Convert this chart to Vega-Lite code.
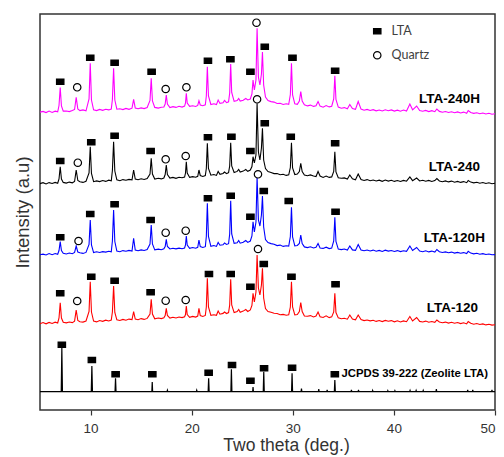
{
"$schema":"https://vega.github.io/schema/vega-lite/v6.json",
"width":455,"height":396,
"autosize":{"type":"none"},
"padding":{"left":40,"top":14,"right":9,"bottom":47},
"background":"white",
"config":{
 "view":{"stroke":"#333333","strokeWidth":1.5},
 "font":"Liberation Sans",
 "axisX":{"domain":false,"grid":false,"tickSize":5,"tickColor":"#333333","tickWidth":1.2,"labelFontSize":13.5,"labelColor":"#333333","labelPadding":6,"titleFontSize":17.5,"titleFontWeight":"normal","titleColor":"#333333","titlePadding":2},
 "axisY":{"domain":false,"grid":false,"ticks":false,"labels":false,"titleFontSize":18.5,"titleFontWeight":"normal","titleColor":"#333333","titlePadding":8}
},
"datasets":{
"xrd":[
{"x":5.0,"m":297.9,"k":226.4,"b":155.2,"r":86.3},
{"x":5.3,"m":298.6,"k":227.3,"b":155.9,"r":87.4},
{"x":5.6,"m":297.4,"k":226.1,"b":155.0,"r":86.2},
{"x":5.9,"m":298.9,"k":227.4,"b":156.4,"r":87.6},
{"x":6.2,"m":297.6,"k":226.5,"b":155.3,"r":86.6},
{"x":6.5,"m":298.8,"k":227.6,"b":156.5,"r":87.8},
{"x":6.75,"m":298.1,"k":226.8,"b":155.7,"r":87.0},
{"x":6.88,"m":304.5,"k":231,"b":159.5,"r":92},
{"x":7.0,"m":322.5,"k":243.3,"b":168.3,"r":107.3},
{"x":7.12,"m":304,"k":231,"b":159.5,"r":92},
{"x":7.3,"m":298.9,"k":227.6,"b":156.8,"r":87.7},
{"x":7.6,"m":299.0,"k":226.9,"b":156.0,"r":87.1},
{"x":7.9,"m":298.4,"k":227.9,"b":157.0,"r":88.0},
{"x":8.2,"m":299.4,"k":227.2,"b":156.3,"r":87.4},
{"x":8.42,"m":300.5,"k":228.5,"b":157.5,"r":88.8},
{"x":8.58,"m":312.7,"k":240,"b":164,"r":100},
{"x":8.74,"m":301,"k":229.5,"b":158,"r":89.5},
{"x":8.95,"m":299.4,"k":228.2,"b":157.2,"r":88.3},
{"x":9.25,"m":300.1,"k":227.6,"b":156.6,"r":87.9},
{"x":9.55,"m":299.2,"k":228.7,"b":157.6,"r":89.0},
{"x":9.85,"m":311,"k":237,"b":165.5,"r":98.5},
{"x":9.97,"m":346.7,"k":263.3,"b":190,"r":128.3},
{"x":10.09,"m":310,"k":236.5,"b":165,"r":98},
{"x":10.3,"m":300.2,"k":228.3,"b":157.4,"r":88.9},
{"x":10.6,"m":299.4,"k":229.1,"b":158.2,"r":88.1},
{"x":10.9,"m":300.6,"k":228.4,"b":157.5,"r":89.5},
{"x":11.2,"m":299.7,"k":229.5,"b":158.4,"r":88.7},
{"x":11.5,"m":300.8,"k":228.6,"b":157.9,"r":89.8},
{"x":11.8,"m":300.1,"k":229.8,"b":158.8,"r":89.0},
{"x":12.05,"m":301,"k":229.2,"b":158.2,"r":89.9},
{"x":12.16,"m":310.5,"k":239.5,"b":169,"r":98},
{"x":12.28,"m":341.7,"k":268.3,"b":200,"r":124},
{"x":12.4,"m":310,"k":239,"b":168.5,"r":97.5},
{"x":12.6,"m":300.8,"k":230.1,"b":159.0,"r":90.2},
{"x":12.9,"m":301.3,"k":229.3,"b":158.3,"r":89.5},
{"x":13.2,"m":300.4,"k":230.4,"b":159.4,"r":90.6},
{"x":13.5,"m":301.6,"k":229.7,"b":158.7,"r":89.8},
{"x":13.8,"m":300.7,"k":230.6,"b":159.6,"r":90.9},
{"x":14.1,"m":301.8,"k":230.1,"b":159.0,"r":90.4},
{"x":14.26,"m":310.7,"k":240,"b":171.7,"r":98.3},
{"x":14.42,"m":302.0,"k":231.0,"b":160.0,"r":91.0},
{"x":14.7,"m":301.2,"k":230.3,"b":159.2,"r":90.3},
{"x":15.0,"m":302.1,"k":231.2,"b":160.1,"r":91.4},
{"x":15.3,"m":301.4,"k":230.5,"b":159.5,"r":90.6},
{"x":15.6,"m":302.5,"k":231.4,"b":160.4,"r":91.6},
{"x":15.88,"m":309.5,"k":236,"b":166,"r":96},
{"x":16.0,"m":331.7,"k":251.7,"b":185,"r":110.7},
{"x":16.12,"m":309,"k":236,"b":166,"r":96},
{"x":16.35,"m":302.6,"k":231.0,"b":160.1,"r":91.2},
{"x":16.7,"m":301.9,"k":231.8,"b":160.9,"r":92.0},
{"x":17.0,"m":302.8,"k":231.1,"b":160.3,"r":91.4},
{"x":17.25,"m":303.0,"k":232.0,"b":161.2,"r":92.2},
{"x":17.38,"m":306,"k":235.5,"b":163.5,"r":94.5},
{"x":17.49,"m":315,"k":245,"b":170.7,"r":101.7},
{"x":17.6,"m":306,"k":235.5,"b":163.5,"r":94.5},
{"x":17.85,"m":302.5,"k":231.9,"b":161.0,"r":91.9},
{"x":18.15,"m":303.4,"k":232.6,"b":161.8,"r":92.8},
{"x":18.45,"m":302.6,"k":231.7,"b":161.1,"r":92.0},
{"x":18.75,"m":303.7,"k":232.8,"b":161.9,"r":93.0},
{"x":19.05,"m":302.9,"k":232.2,"b":161.3,"r":92.4},
{"x":19.3,"m":303.9,"k":233.0,"b":162.0,"r":93.2},
{"x":19.39,"m":307,"k":237,"b":165,"r":95.5},
{"x":19.47,"m":316.7,"k":248.3,"b":174,"r":104},
{"x":19.56,"m":307,"k":237,"b":165,"r":95.5},
{"x":19.8,"m":303.6,"k":232.6,"b":161.7,"r":92.7},
{"x":20.1,"m":304.2,"k":233.4,"b":162.5,"r":93.6},
{"x":20.4,"m":303.5,"k":232.8,"b":161.8,"r":92.9},
{"x":20.6,"m":304.6,"k":233.7,"b":162.7,"r":93.9},
{"x":20.72,"m":309.3,"k":240,"b":170,"r":101.7},
{"x":20.85,"m":305,"k":234.5,"b":163.5,"r":94.5},
{"x":21.1,"m":304.3,"k":233.6,"b":162.5,"r":93.5},
{"x":21.35,"m":305.2,"k":234.4,"b":163.3,"r":94.6},
{"x":21.45,"m":314,"k":241.5,"b":173.5,"r":103},
{"x":21.55,"m":343.3,"k":266.7,"b":206.7,"r":131.7},
{"x":21.66,"m":314,"k":241.5,"b":173.5,"r":103},
{"x":21.9,"m":305.5,"k":234.8,"b":163.7,"r":94.6},
{"x":22.2,"m":306.2,"k":235.5,"b":164.5,"r":95.3},
{"x":22.45,"m":305.4,"k":234.6,"b":163.6,"r":94.7},
{"x":22.62,"m":310,"k":238.5,"b":167.5,"r":99},
{"x":22.8,"m":306.6,"k":235.7,"b":164.8,"r":95.8},
{"x":23.1,"m":307.2,"k":236.5,"b":165.2,"r":96.6},
{"x":23.25,"m":309.5,"k":238,"b":167,"r":98},
{"x":23.45,"m":307.3,"k":236.4,"b":165.5,"r":96.5},
{"x":23.65,"m":308.2,"k":237.3,"b":166.3,"r":97.4},
{"x":23.76,"m":317,"k":244,"b":176,"r":105},
{"x":23.86,"m":346,"k":267.3,"b":209.3,"r":130.7},
{"x":23.96,"m":317.5,"k":244,"b":176,"r":105},
{"x":24.2,"m":308.6,"k":237.5,"b":166.7,"r":97.4},
{"x":24.5,"m":309.4,"k":238.6,"b":167.3,"r":98.5},
{"x":24.65,"m":311.5,"k":240.5,"b":169.5,"r":100.5},
{"x":24.8,"m":308.9,"k":238.0,"b":166.8,"r":97.8},
{"x":25.1,"m":309.8,"k":238.9,"b":167.7,"r":98.9},
{"x":25.35,"m":311.5,"k":240.5,"b":169.5,"r":100.5},
{"x":25.55,"m":310.0,"k":238.7,"b":167.6,"r":98.5},
{"x":25.8,"m":311,"k":240,"b":169,"r":100},
{"x":25.96,"m":316,"k":243.5,"b":174,"r":104.5},
{"x":26.07,"m":330,"k":253.3,"b":188.3,"r":116.7},
{"x":26.2,"m":320,"k":247,"b":178,"r":108},
{"x":26.36,"m":330,"k":255,"b":188,"r":118},
{"x":26.47,"m":381.7,"k":306.7,"b":233.3,"r":155},
{"x":26.6,"m":333,"k":258,"b":190,"r":122},
{"x":26.75,"m":325,"k":250,"b":184,"r":115},
{"x":26.9,"m":336,"k":262,"b":195,"r":125},
{"x":27.0,"m":358,"k":281.7,"b":214,"r":141.7},
{"x":27.12,"m":325,"k":250,"b":183,"r":112},
{"x":27.3,"m":313,"k":241.5,"b":170.5,"r":101.5},
{"x":27.55,"m":309.5,"k":238.5,"b":167.5,"r":98.5},
{"x":27.85,"m":308.4,"k":237.6,"b":166.4,"r":97.8},
{"x":28.15,"m":307.9,"k":236.4,"b":165.8,"r":96.7},
{"x":28.45,"m":306.5,"k":236.5,"b":164.4,"r":96.5},
{"x":28.75,"m":306.8,"k":235.3,"b":164.9,"r":95.2},
{"x":29.05,"m":305.5,"k":235.8,"b":163.6,"r":95.6},
{"x":29.35,"m":306.3,"k":234.6,"b":164.2,"r":94.7},
{"x":29.6,"m":305.7,"k":235.2,"b":163.9,"r":95.3},
{"x":29.76,"m":315.5,"k":242.5,"b":173.5,"r":103},
{"x":29.87,"m":346.7,"k":267.3,"b":202.7,"r":128.3},
{"x":29.98,"m":315,"k":242,"b":173,"r":103},
{"x":30.2,"m":306.2,"k":235.5,"b":164.1,"r":95.2},
{"x":30.45,"m":305.7,"k":236.0,"b":164.5,"r":95.5},
{"x":30.65,"m":309,"k":238.5,"b":166.5,"r":98.5},
{"x":30.79,"m":318.3,"k":246.7,"b":175,"r":107.3},
{"x":30.93,"m":309,"k":238.5,"b":166.5,"r":98.5},
{"x":31.15,"m":305.2,"k":235.0,"b":163.1,"r":94.0},
{"x":31.45,"m":304.1,"k":234.2,"b":162.4,"r":93.7},
{"x":31.75,"m":304.9,"k":235.1,"b":163.2,"r":94.4},
{"x":32.05,"m":303.6,"k":234.0,"b":162.0,"r":93.1},
{"x":32.3,"m":304.3,"k":233.5,"b":162.7,"r":93.9},
{"x":32.5,"m":308.5,"k":238.5,"b":166.5,"r":98},
{"x":32.7,"m":303.9,"k":234.0,"b":162.0,"r":93.3},
{"x":33.0,"m":302.8,"k":232.5,"b":161.6,"r":92.5},
{"x":33.3,"m":304.5,"k":233.9,"b":162.8,"r":94.2},
{"x":33.6,"m":303.1,"k":232.6,"b":161.4,"r":92.4},
{"x":33.85,"m":303.8,"k":233.1,"b":161.9,"r":93.1},
{"x":34.05,"m":311,"k":238.5,"b":169,"r":98},
{"x":34.16,"m":334.3,"k":258.3,"b":192.7,"r":116.7},
{"x":34.27,"m":310.5,"k":238,"b":168.5,"r":97.5},
{"x":34.5,"m":302.9,"k":232.2,"b":160.9,"r":92.1},
{"x":34.8,"m":301.8,"k":231.7,"b":160.4,"r":91.2},
{"x":35.1,"m":302.4,"k":232.1,"b":161.0,"r":91.8},
{"x":35.4,"m":301.2,"k":230.9,"b":160.0,"r":90.8},
{"x":35.64,"m":305.5,"k":235,"b":164,"r":95},
{"x":35.9,"m":301.5,"k":231.3,"b":160.1,"r":91.0},
{"x":36.2,"m":300.6,"k":230.2,"b":159.6,"r":90.2},
{"x":36.47,"m":308.5,"k":236,"b":165.5,"r":95},
{"x":36.75,"m":300.9,"k":230.5,"b":159.9,"r":90.4},
{"x":37.05,"m":299.8,"k":229.5,"b":159.2,"r":89.4},
{"x":37.35,"m":300.6,"k":230.4,"b":160.0,"r":90.0},
{"x":37.65,"m":299.5,"k":229.3,"b":159.0,"r":89.1},
{"x":37.95,"m":300.3,"k":230.0,"b":159.9,"r":89.8},
{"x":38.25,"m":299.2,"k":229.0,"b":158.8,"r":88.6},
{"x":38.55,"m":300.0,"k":229.8,"b":159.6,"r":89.5},
{"x":38.85,"m":299.0,"k":228.7,"b":158.6,"r":88.4},
{"x":39.15,"m":300.2,"k":229.9,"b":159.8,"r":89.6},
{"x":39.45,"m":299.3,"k":228.9,"b":158.9,"r":88.7},
{"x":39.75,"m":300.1,"k":229.7,"b":159.5,"r":89.4},
{"x":40.05,"m":298.9,"k":228.6,"b":158.5,"r":88.2},
{"x":40.35,"m":299.8,"k":229.5,"b":159.4,"r":89.2},
{"x":40.65,"m":298.8,"k":228.5,"b":158.4,"r":88.1},
{"x":40.95,"m":299.9,"k":229.6,"b":159.3,"r":89.1},
{"x":41.25,"m":298.9,"k":228.8,"b":158.7,"r":88.3},
{"x":41.58,"m":306,"k":233,"b":164,"r":93.5},
{"x":41.85,"m":300.2,"k":229.3,"b":159.5,"r":89.0},
{"x":42.25,"m":304,"k":232,"b":162.5,"r":92.5},
{"x":42.55,"m":299.5,"k":229.0,"b":159.0,"r":88.6},
{"x":42.85,"m":298.7,"k":229.8,"b":158.3,"r":88.0},
{"x":43.15,"m":299.6,"k":228.8,"b":159.2,"r":88.9},
{"x":43.45,"m":298.4,"k":229.6,"b":158.1,"r":87.8},
{"x":43.75,"m":299.3,"k":228.5,"b":158.9,"r":88.5},
{"x":44.05,"m":298.3,"k":229.4,"b":157.9,"r":87.6},
{"x":44.25,"m":301,"k":231.5,"b":160.5,"r":90},
{"x":44.5,"m":298.6,"k":229.0,"b":158.3,"r":88.0},
{"x":44.8,"m":297.7,"k":228.3,"b":157.5,"r":87.3},
{"x":45.1,"m":298.5,"k":229.1,"b":158.1,"r":87.9},
{"x":45.4,"m":297.5,"k":228.1,"b":157.2,"r":86.9},
{"x":45.7,"m":298.3,"k":228.9,"b":157.9,"r":87.7},
{"x":46.0,"m":297.3,"k":227.8,"b":156.9,"r":86.7},
{"x":46.3,"m":298.1,"k":228.6,"b":157.6,"r":87.5},
{"x":46.6,"m":297.0,"k":227.6,"b":156.7,"r":86.4},
{"x":46.9,"m":297.9,"k":228.4,"b":157.4,"r":87.2},
{"x":47.2,"m":296.8,"k":227.3,"b":156.4,"r":86.1},
{"x":47.35,"m":299.5,"k":229.5,"b":158.8,"r":88.5},
{"x":47.6,"m":297.5,"k":227.9,"b":156.9,"r":86.7},
{"x":47.9,"m":296.6,"k":227.1,"b":156.1,"r":85.8},
{"x":48.2,"m":297.3,"k":227.8,"b":156.7,"r":86.5},
{"x":48.5,"m":296.3,"k":226.8,"b":155.8,"r":85.5},
{"x":48.8,"m":297.0,"k":227.5,"b":156.4,"r":86.1},
{"x":49.1,"m":296.0,"k":226.5,"b":155.5,"r":85.1},
{"x":49.4,"m":296.7,"k":227.2,"b":156.0,"r":85.7},
{"x":49.7,"m":295.8,"k":226.3,"b":155.2,"r":84.9},
{"x":50.0,"m":296.3,"k":226.8,"b":155.4,"r":85.2}
],
"jc":[
{"x":5,"y":18.3},
{"x":7.1,"y":18.3},{"x":7.16,"y":62},{"x":7.22,"y":18.3},
{"x":10.07,"y":18.3},{"x":10.13,"y":44},{"x":10.19,"y":18.3},
{"x":12.42,"y":18.3},{"x":12.47,"y":31.7},{"x":12.52,"y":18.3},
{"x":16.06,"y":18.3},{"x":16.1,"y":28},{"x":16.14,"y":18.3},
{"x":17.56,"y":18.3},{"x":17.6,"y":19.8},{"x":17.64,"y":18.3},
{"x":20.46,"y":18.3},{"x":20.5,"y":19.8},{"x":20.54,"y":18.3},
{"x":21.63,"y":18.3},{"x":21.68,"y":31.7},{"x":21.73,"y":18.3},
{"x":23.88,"y":18.3},{"x":23.93,"y":40.7},{"x":23.98,"y":18.3},
{"x":26.03,"y":18.3},{"x":26.07,"y":23},{"x":26.11,"y":18.3},
{"x":27.08,"y":18.3},{"x":27.13,"y":38.3},{"x":27.18,"y":18.3},
{"x":29.88,"y":18.3},{"x":29.93,"y":36.7},{"x":29.98,"y":18.3},
{"x":30.82,"y":18.3},{"x":30.86,"y":21.5},{"x":30.9,"y":18.3},
{"x":32.53,"y":18.3},{"x":32.57,"y":21},{"x":32.61,"y":18.3},
{"x":33.36,"y":18.3},{"x":33.4,"y":20},{"x":33.44,"y":18.3},
{"x":34.11,"y":18.3},{"x":34.16,"y":30},{"x":34.21,"y":18.3},
{"x":35.76,"y":18.3},{"x":35.8,"y":20},{"x":35.84,"y":18.3},
{"x":36.46,"y":18.3},{"x":36.5,"y":20},{"x":36.54,"y":18.3},
{"x":37.86,"y":18.3},{"x":37.9,"y":19.5},{"x":37.94,"y":18.3},
{"x":39.36,"y":18.3},{"x":39.4,"y":19.3},{"x":39.44,"y":18.3},
{"x":40.06,"y":18.3},{"x":40.1,"y":19.3},{"x":40.14,"y":18.3},
{"x":41.56,"y":18.3},{"x":41.6,"y":19.5},{"x":41.64,"y":18.3},
{"x":42.16,"y":18.3},{"x":42.2,"y":19.5},{"x":42.24,"y":18.3},
{"x":42.86,"y":18.3},{"x":42.9,"y":19.5},{"x":42.94,"y":18.3},
{"x":44.16,"y":18.3},{"x":44.2,"y":21},{"x":44.24,"y":18.3},
{"x":47.26,"y":18.3},{"x":47.3,"y":20},{"x":47.34,"y":18.3},
{"x":47.76,"y":18.3},{"x":47.8,"y":20},{"x":47.84,"y":18.3},
{"x":49.66,"y":18.3},{"x":49.7,"y":20},{"x":49.74,"y":18.3},
{"x":50,"y":18.3}
],
"mk":[
{"x":7.0,"y":328.3,"t":"LTA"},{"x":9.97,"y":352.3,"t":"LTA"},{"x":12.38,"y":347.3,"t":"LTA"},{"x":16.04,"y":338.3,"t":"LTA"},{"x":21.61,"y":349.3,"t":"LTA"},{"x":23.83,"y":350.7,"t":"LTA"},{"x":25.81,"y":338.3,"t":"LTA"},{"x":27.23,"y":363.3,"t":"LTA"},{"x":29.97,"y":352.3,"t":"LTA"},{"x":34.19,"y":339.3,"t":"LTA"},
{"x":8.68,"y":322.7,"t":"Quartz"},{"x":17.43,"y":321,"t":"Quartz"},{"x":19.48,"y":322.7,"t":"Quartz"},{"x":26.41,"y":387.3,"t":"Quartz"},
{"x":7.0,"y":249,"t":"LTA"},{"x":10.07,"y":267.7,"t":"LTA"},{"x":12.38,"y":274.3,"t":"LTA"},{"x":15.94,"y":259,"t":"LTA"},{"x":21.61,"y":272.7,"t":"LTA"},{"x":23.93,"y":273.3,"t":"LTA"},{"x":25.81,"y":259,"t":"LTA"},{"x":27.23,"y":286.7,"t":"LTA"},{"x":29.8,"y":273.3,"t":"LTA"},{"x":34.19,"y":266.7,"t":"LTA"},
{"x":8.74,"y":247.3,"t":"Quartz"},{"x":17.43,"y":250.7,"t":"Quartz"},{"x":19.41,"y":254,"t":"Quartz"},{"x":26.47,"y":310.7,"t":"Quartz"},
{"x":7.0,"y":172.7,"t":"LTA"},{"x":9.97,"y":196,"t":"LTA"},{"x":12.38,"y":205.7,"t":"LTA"},{"x":15.94,"y":190,"t":"LTA"},{"x":21.61,"y":211.7,"t":"LTA"},{"x":23.86,"y":214.3,"t":"LTA"},{"x":25.81,"y":193.3,"t":"LTA"},{"x":27.13,"y":219,"t":"LTA"},{"x":29.6,"y":209,"t":"LTA"},{"x":34.23,"y":198.3,"t":"LTA"},
{"x":8.81,"y":169,"t":"Quartz"},{"x":17.43,"y":177.3,"t":"Quartz"},{"x":19.41,"y":179.3,"t":"Quartz"},{"x":26.56,"y":235.7,"t":"Quartz"},
{"x":7.0,"y":116.7,"t":"LTA"},{"x":10.07,"y":133.3,"t":"LTA"},{"x":12.38,"y":129.3,"t":"LTA"},{"x":15.94,"y":117.7,"t":"LTA"},{"x":21.71,"y":136,"t":"LTA"},{"x":23.86,"y":136,"t":"LTA"},{"x":25.81,"y":123.3,"t":"LTA"},{"x":27.13,"y":146,"t":"LTA"},{"x":29.87,"y":133.3,"t":"LTA"},{"x":34.23,"y":125.7,"t":"LTA"},
{"x":8.68,"y":109,"t":"Quartz"},{"x":17.43,"y":109.3,"t":"Quartz"},{"x":19.41,"y":110,"t":"Quartz"},{"x":26.56,"y":161,"t":"Quartz"},
{"x":7.16,"y":65.3,"t":"LTA"},{"x":10.13,"y":50,"t":"LTA"},{"x":12.48,"y":35.7,"t":"LTA"},{"x":16.11,"y":35.7,"t":"LTA"},{"x":21.68,"y":37.3,"t":"LTA"},{"x":23.99,"y":45,"t":"LTA"},{"x":25.81,"y":29.3,"t":"LTA"},{"x":27.16,"y":41.7,"t":"LTA"},{"x":29.93,"y":42.3,"t":"LTA"},{"x":34.16,"y":35.7,"t":"LTA"}
],
"lab":[
{"x":48.51,"y":311,"t":"LTA-240H"},
{"x":48.51,"y":243.3,"t":"LTA-240"},
{"x":49.0,"y":172.3,"t":"LTA-120H"},
{"x":48.32,"y":101.7,"t":"LTA-120"}
],
"jlab":[{"x":34.82,"y":35.7,"t":"JCPDS 39-222 (Zeolite LTA)"}]
},
"encoding":{
 "x":{"field":"x","type":"quantitative","scale":{"domain":[5,50],"nice":false,"zero":false},"axis":{"values":[10,20,30,40,50],"title":"Two theta (deg.)","titleX":246}}
},
"layer":[
{"data":{"name":"xrd"},"mark":{"type":"line","color":"#ff00ff","strokeWidth":1.1},
 "encoding":{"y":{"field":"m","type":"quantitative","scale":{"domain":[0,396],"nice":false},"title":"Intensity (a.u)"}}},
{"data":{"name":"xrd"},"mark":{"type":"line","color":"#000000","strokeWidth":1.1},
 "encoding":{"y":{"field":"k","type":"quantitative","scale":{"domain":[0,396],"nice":false},"title":"Intensity (a.u)"}}},
{"data":{"name":"xrd"},"mark":{"type":"line","color":"#0000ff","strokeWidth":1.1},
 "encoding":{"y":{"field":"b","type":"quantitative","scale":{"domain":[0,396],"nice":false},"title":"Intensity (a.u)"}}},
{"data":{"name":"xrd"},"mark":{"type":"line","color":"#ff0000","strokeWidth":1.1},
 "encoding":{"y":{"field":"r","type":"quantitative","scale":{"domain":[0,396],"nice":false},"title":"Intensity (a.u)"}}},
{"data":{"name":"jc"},"mark":{"type":"line","color":"#000000","strokeWidth":1.2},
 "encoding":{"y":{"field":"y","type":"quantitative","scale":{"domain":[0,396],"nice":false},"title":"Intensity (a.u)"}}},
{"data":{"name":"mk"},"mark":{"type":"point","filled":true,"strokeWidth":1.2,"opacity":1,"size":55},
 "encoding":{
  "y":{"field":"y","type":"quantitative","scale":{"domain":[0,396],"nice":false},"title":"Intensity (a.u)"},
  "shape":{"field":"t","type":"nominal","scale":{"domain":["LTA","Quartz"],"range":["M-1,-0.72H1V0.72H-1Z","circle"]},"legend":{"title":null,"orient":"none","legendX":331,"legendY":11,"padding":0,"rowPadding":11,"labelOffset":8,"labelFont":"Lato","labelFontSize":12.5,"labelColor":"#404040","symbolSize":55,"symbolStrokeWidth":1.2}},
  "fill":{"field":"t","type":"nominal","scale":{"domain":["LTA","Quartz"],"range":["#000000","#ffffff"]},"legend":{"title":null,"orient":"none","legendX":331,"legendY":11,"padding":0,"rowPadding":11,"labelOffset":8,"labelFont":"Lato","labelFontSize":12.5,"labelColor":"#404040","symbolSize":55,"symbolStrokeWidth":1.2}},
  "stroke":{"field":"t","type":"nominal","scale":{"domain":["LTA","Quartz"],"range":["#000000","#000000"]},"legend":{"title":null,"orient":"none","legendX":331,"legendY":11,"padding":0,"rowPadding":11,"labelOffset":8,"labelFont":"Lato","labelFontSize":12.5,"labelColor":"#404040","symbolSize":55,"symbolStrokeWidth":1.2}}
 }},
{"data":{"name":"lab"},"mark":{"type":"text","align":"right","baseline":"middle","font":"Liberation Sans","fontSize":13.5,"fontWeight":"bold","color":"#000000"},
 "encoding":{"y":{"field":"y","type":"quantitative","scale":{"domain":[0,396],"nice":false},"title":"Intensity (a.u)"},"text":{"field":"t"}}},
{"data":{"name":"jlab"},"mark":{"type":"text","align":"left","baseline":"middle","font":"Liberation Sans","fontSize":11.3,"fontWeight":"bold","color":"#000000"},
 "encoding":{"y":{"field":"y","type":"quantitative","scale":{"domain":[0,396],"nice":false},"title":"Intensity (a.u)"},"text":{"field":"t"}}}
]
}
